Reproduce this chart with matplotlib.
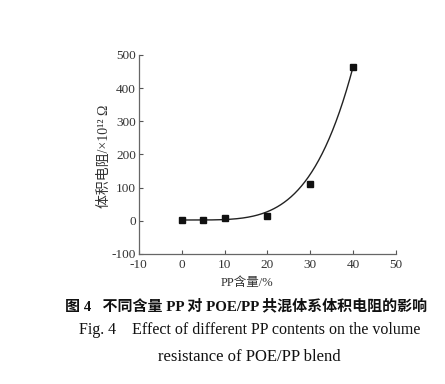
import numpy as np
import matplotlib
matplotlib.use("Agg")
import matplotlib.pyplot as plt

# measured points
pp_content = [0, 5, 10, 20, 30, 40]
resistance = [2, 3, 7, 15, 112, 465]

# fitted curve y = c + a * x**n (parameters)
fit_c = 2.0
fit_n = 4.2
fit_a = 463.0 / 40 ** fit_n

xticks = [-10, 0, 10, 20, 30, 40, 50]
yticks = [-100, 0, 100, 200, 300, 400, 500]

serif = ["Liberation Serif", "Noto Sans CJK SC"]
plt.rcParams["font.family"] = serif
plt.rcParams["axes.unicode_minus"] = False

fig = plt.figure(figsize=(4.45, 3.84), dpi=100)
ax = fig.add_axes([0.312, 0.339, 0.578, 0.518])

xs = np.linspace(0, 40, 200)
ax.plot(xs, fit_c + fit_a * xs ** fit_n, color="#222222", lw=1.0)
ax.plot(pp_content, resistance, "s", color="#111111", ms=5)

ax.set_xlim(-10, 50)
ax.set_ylim(-100, 500)
ax.set_xticks(xticks)
ax.set_yticks(yticks)
ax.tick_params(direction="in", length=3, width=0.8, labelsize=9.5,
               colors="#555555", labelcolor="#333333")
ax.tick_params(axis="x", pad=4)
ax.tick_params(axis="y", pad=2)
for s in ["top", "right"]:
    ax.spines[s].set_visible(False)
for s in ["left", "bottom"]:
    ax.spines[s].set_color("#666666")
    ax.spines[s].set_linewidth(0.9)

fig.text(0.555, 0.263, "PP含量/%", ha="center", va="center", fontsize=9,
         color="#333333")
fig.text(0.235, 0.592, "体积电阻/×10¹² Ω", ha="center", va="center",
         rotation=90, fontsize=10, color="#333333")

fig.text(0.554, 0.203, "图 4   不同含量 PP 对 POE/PP 共混体系体积电阻的影响",
         ha="center", va="center", fontsize=10.8, fontweight="bold",
         color="#111111")
fig.text(0.562, 0.140, "Fig. 4    Effect of different PP contents on the volume",
         ha="center", va="center", fontsize=11.5, color="#111111")
fig.text(0.560, 0.070, "resistance of POE/PP blend",
         ha="center", va="center", fontsize=12, color="#111111")

fig.savefig("out.png", dpi=100)
